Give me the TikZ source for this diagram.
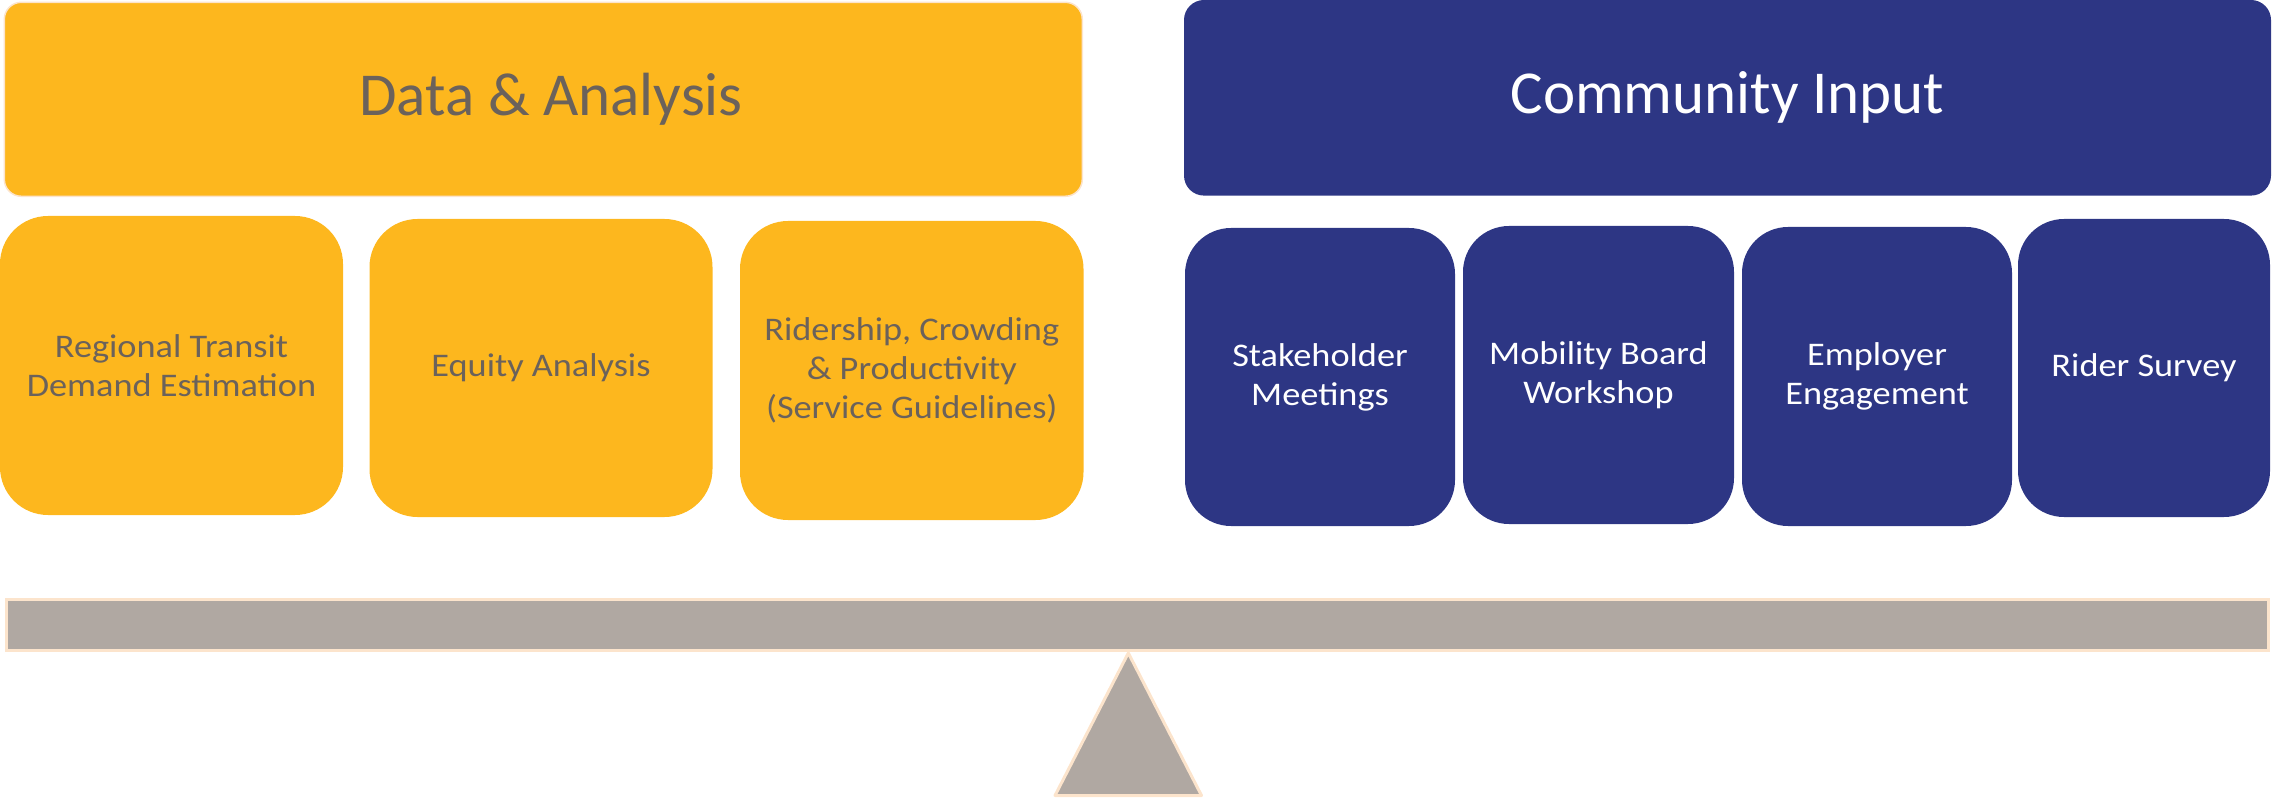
\documentclass[tikz,border=0pt]{standalone}
\usepackage{fontspec}
\setmainfont{Carlito}
\newfontfamily\boxfont[FakeStretch=1.1]{Carlito}
\definecolor{orng}{HTML}{FDB71E}
\definecolor{navy}{HTML}{2D3684}
\definecolor{greytxt}{HTML}{6B625B}
\definecolor{beam}{HTML}{B0A8A2}
\definecolor{peach}{HTML}{FCE4CC}
\tikzset{
  boxbase/.style={inner sep=0pt, anchor=center, align=center},
  orangetop/.style={boxbase, fill=orng, draw=peach, line width=1.5pt, rounded corners=17pt},
  navytop/.style={boxbase, fill=navy, rounded corners=20pt},
  headtext/.style={inner sep=0pt, anchor=center, font=\fontsize{61}{74}\selectfont},
  orangebox/.style={boxbase, fill=orng, rounded corners=48pt,
    text=greytxt, font=\boxfont\fontsize{33}{39}\selectfont},
  navybox/.style={boxbase, fill=navy, rounded corners=46pt,
    text=white, font=\boxfont\fontsize{33}{39}\selectfont},
  beamstyle/.style={fill=beam, draw=peach, line width=3pt},
}
\begin{document}
\begin{tikzpicture}[x=1pt,y=-1pt]
\useasboundingbox (0,0) rectangle (2272,799);
% top headers
\node[orangetop, minimum width=1078pt, minimum height=194pt] (da) at (543.3,99.3) {};
\node[headtext, text=greytxt] (datxt) at (551,99.3) {Data \& Analysis};
\node[navytop, minimum width=1087pt, minimum height=195.6pt] (ci) at (1727.5,97.8) {};
\node[headtext, text=white] (citxt) at (1727.5,97.8) {Community Input};
% orange boxes
\node[orangebox, minimum width=343pt, minimum height=299pt] (o1) at (171.5,365.5) {Regional Transit\\Demand Estimation};
\node[orangebox, minimum width=343pt, minimum height=298pt] (o2) at (541,368) {Equity Analysis};
\node[orangebox, minimum width=343.5pt, minimum height=299pt] (o3) at (911.75,370.5) {Ridership, Crowding\\\& Productivity\\(Service Guidelines)};
% navy boxes
\node[navybox, minimum width=270pt, minimum height=298pt] (b1) at (1320,377) {Stakeholder\\Meetings};
\node[navybox, minimum width=271pt, minimum height=298pt] (b2) at (1598.5,375) {Mobility Board\\Workshop};
\node[navybox, minimum width=270pt, minimum height=299pt] (b3) at (1877,376.5) {Employer\\Engagement};
\node[navybox, minimum width=252pt, minimum height=298pt] (b4) at (2144,368) {Rider Survey};
% balance beam and fulcrum
\draw[beamstyle] (6.5,599.2) rectangle (2268.5,650.2);
\draw[beamstyle, line join=round] (1128.3,653) -- (1201.5,795.5) -- (1055,795.5) -- cycle;
\end{tikzpicture}
\end{document}
